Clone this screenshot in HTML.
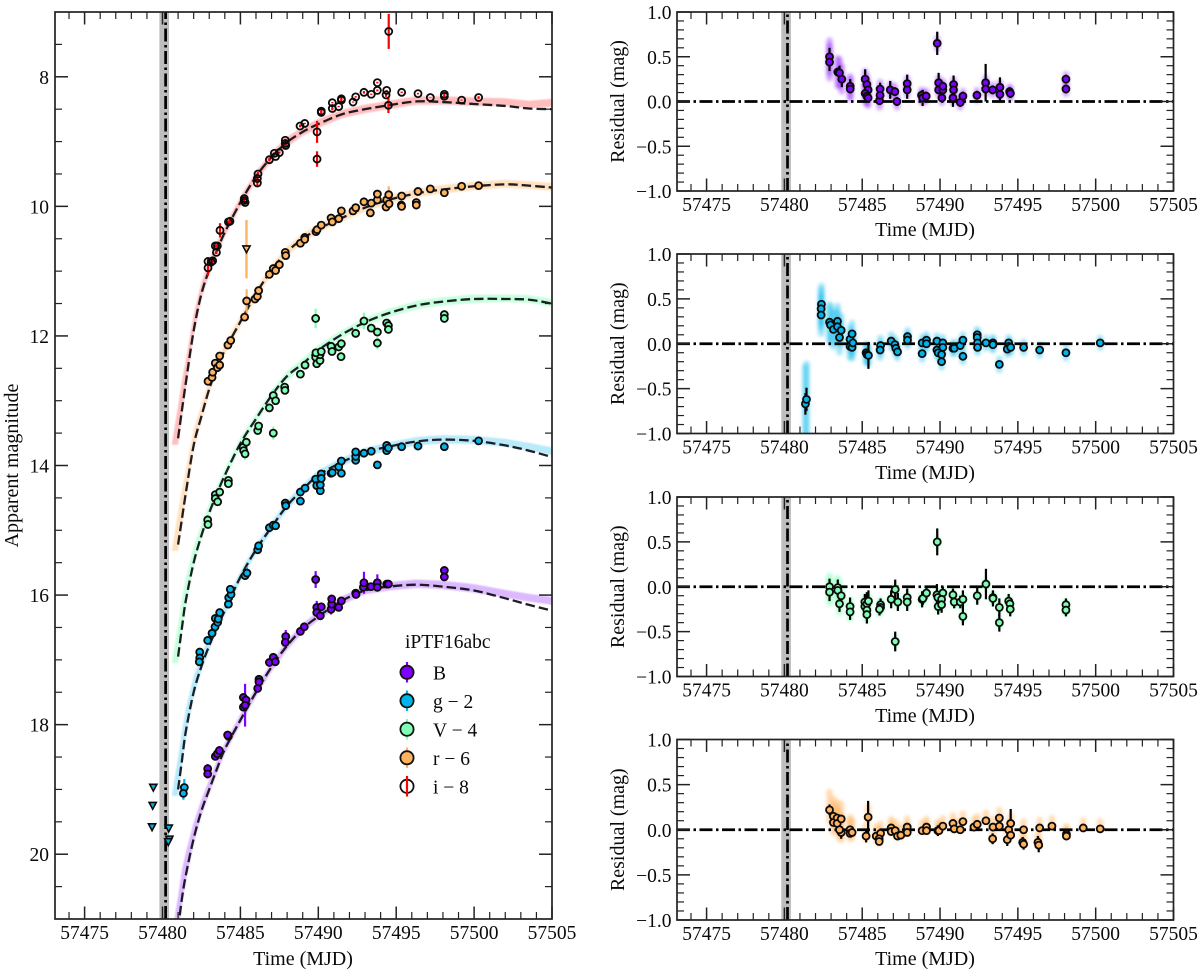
<!DOCTYPE html>
<html lang="en">
<head>
<meta charset="utf-8">
<title>iPTF16abc light curve and residuals</title>
<style>
html,body{margin:0;padding:0;background:#fff;}
svg{display:block;font-family:"Liberation Serif","DejaVu Serif",serif;}
text{fill:#0a0a0a;}
</style>
</head>
<body>
<svg id="figure" xmlns="http://www.w3.org/2000/svg" width="1200" height="975" viewBox="0 0 1200 975">
  <defs>
    <filter id="soft" x="-10%" y="-10%" width="120%" height="120%"><feGaussianBlur stdDeviation="0.9"/></filter>
    <filter id="fuzz" x="-10%" y="-20%" width="120%" height="140%"><feGaussianBlur stdDeviation="1.5"/></filter>
    <clipPath id="clip-main"><rect x="55" y="12" width="497" height="907"/></clipPath>
    <clipPath id="clip-p0"><rect x="677" y="12" width="496.5" height="179"/></clipPath>
    <clipPath id="clip-p1"><rect x="677" y="254" width="496.5" height="179.5"/></clipPath>
    <clipPath id="clip-p2"><rect x="677" y="497" width="496.5" height="179.5"/></clipPath>
    <clipPath id="clip-p3"><rect x="677" y="739.5" width="496.5" height="180.5"/></clipPath>
  </defs>

  <g id="main-panel"></g>
  <text transform="translate(18,465.5) rotate(-90)" text-anchor="middle" font-size="20">Apparent magnitude</text>
  <text x="303" y="965" text-anchor="middle" font-size="20">Time (MJD)</text>

  <g id="residual-0"></g>
  <text transform="translate(624,101.5) rotate(-90)" text-anchor="middle" font-size="20">Residual (mag)</text>
  <text x="925" y="236" text-anchor="middle" font-size="20">Time (MJD)</text>

  <g id="residual-1"></g>
  <text transform="translate(624,343.7) rotate(-90)" text-anchor="middle" font-size="20">Residual (mag)</text>
  <text x="925" y="479" text-anchor="middle" font-size="20">Time (MJD)</text>

  <g id="residual-2"></g>
  <text transform="translate(624,586.7) rotate(-90)" text-anchor="middle" font-size="20">Residual (mag)</text>
  <text x="925" y="722" text-anchor="middle" font-size="20">Time (MJD)</text>

  <g id="residual-3"></g>
  <text transform="translate(624,829.7) rotate(-90)" text-anchor="middle" font-size="20">Residual (mag)</text>
  <text x="925" y="965" text-anchor="middle" font-size="20">Time (MJD)</text>

  <g>
    <text x="405" y="648" font-size="19.5">iPTF16abc</text>
    <g>
      <line x1="407" y1="662" x2="407" y2="682.5" stroke="#8000ff" stroke-width="2.2"/>
      <circle cx="407" cy="672.3" r="6.6" fill="#8000ff" stroke="#111" stroke-width="1.8"/>
      <text x="433" y="679.5" font-size="19.5">B</text>
    </g>
    <g>
      <line x1="407" y1="690.5" x2="407" y2="711" stroke="#00b5eb" stroke-width="2.2"/>
      <circle cx="407" cy="700.8" r="6.6" fill="#00b5eb" stroke="#111" stroke-width="1.8"/>
      <text x="433" y="708" font-size="19.5">g − 2</text>
    </g>
    <g>
      <line x1="407" y1="719" x2="407" y2="739.5" stroke="#80ffb4" stroke-width="2.2"/>
      <circle cx="407" cy="729.2" r="6.6" fill="#80ffb4" stroke="#111" stroke-width="1.8"/>
      <text x="433" y="736.5" font-size="19.5">V − 4</text>
    </g>
    <g>
      <line x1="407" y1="747.5" x2="407" y2="768" stroke="#ffb360" stroke-width="2.2"/>
      <circle cx="407" cy="757.8" r="6.6" fill="#ffb360" stroke="#111" stroke-width="1.8"/>
      <text x="433" y="765" font-size="19.5">r − 6</text>
    </g>
    <g>
      <circle cx="407" cy="786.3" r="6.6" fill="none" stroke="#111" stroke-width="1.8"/>
      <line x1="407" y1="776" x2="407" y2="796.5" stroke="#ff0000" stroke-width="2.2"/>
      <text x="433" y="793.5" font-size="19.5">i − 8</text>
    </g>
  </g>
</svg>

<script>
// ---------- axis data ----------
const xTicks = [57475, 57480, 57485, 57490, 57495, 57500, 57505];
const xMinorTicks = [57474, 57476, 57477, 57478, 57479, 57481, 57482, 57483, 57484, 57486, 57487, 57488, 57489, 57491, 57492, 57493, 57494, 57496, 57497, 57498, 57499, 57501, 57502, 57503, 57504];
const magTicks = [8, 10, 12, 14, 16, 18, 20];
const magMinorTicks = [7.5, 8.5, 9, 9.5, 10.5, 11, 11.5, 12.5, 13, 13.5, 14.5, 15, 15.5, 16.5, 17, 17.5, 18.5, 19, 19.5, 20.5];
const resTicks = [1, 0.5, 0, -0.5, -1];
const resTickLabels = ['1.0', '0.5', '0.0', '\u22120.5', '\u22121.0'];
const resMinorTicks = [0.9, 0.8, 0.7, 0.6, 0.4, 0.3, 0.2, 0.1, -0.1, -0.2, -0.3, -0.4, -0.6, -0.7, -0.8, -0.9];
const explosionBand = [-0.2, 0.42];
const explosionLine = [0.2];
const epochMJD = 57480;

// ---------- light-curve points: [days since 57480, magnitude, error] ----------
const pointsB = [[2.90,18.68,.07],[2.90,18.76,.07],[3.39,18.49],[3.52,18.45],[3.65,18.40,.07],[4.23,18.18],[4.18,18.16],[5.19,17.58,.05],[5.36,17.62],[5.19,17.73],[5.30,17.70,.33],[6.11,17.44],[6.19,17.30],[6.19,17.34],[6.86,17.04],[7.11,16.96,.06],[7.24,17.03],[7.91,16.64,.1],[7.88,16.73],[8.85,16.56],[9.10,16.49],[9.83,15.76,.13],[9.90,16.19,.1],[9.90,16.27],[10.19,16.18],[10.13,16.32],[10.82,16.22,.08],[10.86,16.14,.08],[10.86,16.06,.06],[11.31,16.19],[11.48,16.09],[12.40,15.97],[12.42,15.99],[12.89,15.88],[12.93,15.81,.17],[13.38,15.87],[13.79,15.81,.13],[13.79,15.88],[14.39,15.83],[14.50,15.83],[18.09,15.62,.05],[18.09,15.72,.05]];
const pointsG = [[1.40,18.97,.13],[1.34,19.06,.1],[2.39,16.88],[2.39,16.97],[2.36,17.03],[2.90,16.70],[3.18,16.59],[3.37,16.49],[3.39,16.36],[3.54,16.42],[3.58,16.37],[3.67,16.27],[4.23,16.14],[4.25,16.04],[4.40,15.99],[4.35,15.91],[5.30,15.70],[5.42,15.66,.09],[6.11,15.30],[6.17,15.24],[6.86,14.96],[7.11,14.92],[7.26,14.93],[7.88,14.58],[7.91,14.62],[8.85,14.55],[8.85,14.41],[9.15,14.35],[9.83,14.21],[9.90,14.31],[10.13,14.39],[10.13,14.30],[10.19,14.13],[10.19,14.20],[10.82,14.12],[10.90,14.11],[11.31,14.02],[11.48,13.93],[11.48,14.12],[12.40,13.92],[12.40,13.86],[12.40,13.79],[12.93,13.81],[13.40,13.78],[13.79,13.99],[14.39,13.69],[14.39,13.77],[14.50,13.73],[15.35,13.71],[16.40,13.70],[18.09,13.71],[20.29,13.62]];
const pointsV = [[2.90,14.84],[2.92,14.91],[3.39,14.45],[3.39,14.51],[3.54,14.56],[3.67,14.41],[4.23,14.23],[4.23,14.28],[5.17,13.72],[5.21,13.77],[5.30,13.82,.09],[5.38,13.64],[6.11,13.46],[6.17,13.39],[7.11,13.50,.1],[6.86,13.11,.07],[7.11,12.92,.1],[7.26,13.00],[7.84,12.79],[7.86,12.84],[8.85,12.59],[9.15,12.45],[9.83,12.33],[9.90,12.43],[10.11,12.38],[10.11,12.29],[9.85,12.26],[10.19,12.24],[10.82,12.16],[10.88,12.24],[11.31,12.17],[11.48,12.12],[11.46,12.32,.07],[12.40,11.96,.07],[12.93,11.77,.13],[13.40,11.88],[13.79,11.94],[13.79,12.11,.09],[14.39,11.80],[14.50,11.84],[14.50,11.90],[9.83,11.73,.15],[18.09,11.67],[18.09,11.73]];
const pointsR = [[2.92,12.70],[3.18,12.64],[3.22,12.56],[3.39,12.42],[3.52,12.49],[3.67,12.45],[3.67,12.31],[4.20,12.14],[4.38,12.07],[5.27,11.71],[5.40,11.46,.18],[5.94,11.43],[6.09,11.39],[6.17,11.30],[6.86,11.05],[7.11,10.96],[7.26,10.99],[7.50,10.90],[7.88,10.71],[7.91,10.76],[8.85,10.57],[9.13,10.48],[9.13,10.51],[9.85,10.39],[9.92,10.36],[10.19,10.29],[10.82,10.18],[10.90,10.24],[11.31,10.19],[11.48,10.07],[12.23,10.07],[12.40,10.02],[12.93,9.93],[13.40,9.95],[13.34,10.10],[13.79,9.90],[13.79,9.81],[14.35,10.01],[14.39,9.90],[14.52,9.82,.13],[14.54,9.96],[15.35,9.84],[15.33,9.98],[15.35,10.00],[16.29,9.94],[16.29,9.98],[16.40,9.77],[17.19,9.73],[18.09,9.79],[19.20,9.69],[20.29,9.68]];
const pointsI = [[2.92,10.85,.04],[2.92,10.95,.12],[3.22,10.84],[3.13,10.86],[3.46,10.71],[3.52,10.61,.06],[3.39,10.61],[3.69,10.37,.11],[4.23,10.24],[4.33,10.23],[5.25,9.88],[5.25,9.91],[5.30,9.94],[6.13,9.50,.03],[6.09,9.57,.04],[6.09,9.64,.05],[6.86,9.28],[7.18,9.18,.012],[7.26,9.23,.015],[7.50,9.17,.015],[7.88,8.98],[7.88,9.03],[7.91,9.06],[8.83,8.76,.02],[9.13,8.72,.01],[9.92,8.85,.17],[9.92,9.27,.12],[10.19,8.53],[10.19,8.55],[10.90,8.40,.01],[10.90,8.49,.03],[11.31,8.46,.01],[11.48,8.34,.025],[11.48,8.36,.025],[12.23,8.39,.008],[12.40,8.31,.012],[12.93,8.24,.02],[13.40,8.27,.01],[13.79,8.09,.012],[13.79,8.21,.015],[14.39,8.21,.008],[14.35,8.28,.03],[14.50,8.44,.12],[14.52,7.30,.27],[15.35,8.24,.012],[16.40,8.26,.012],[17.19,8.32,.004],[18.09,8.27,.02],[18.09,8.30,.02],[19.20,8.36,.008],[20.29,8.32,.02]];

// ---------- upper limits ----------
const limitsG = [[-0.59,18.97],[-0.63,19.25],[-0.67,19.58],[0.40,19.60],[0.44,19.77],[0.37,19.81]];
const limitsR = [[5.39,10.66,.45]];

// ---------- model light curves on a shared time grid ----------
const modelDays = [1,1.25,1.5,2,2.5,3,3.5,4,5,6,7,8,9,10,11.5,13,14.5,16.3,18,20,22,23.5,25];
const modelB = [21.15,20.68,20.32,19.76,19.33,19.0,18.68,18.38,17.93,17.50,17.11,16.78,16.52,16.33,16.09,15.93,15.87,15.84,15.87,15.93,16.05,16.15,16.24];
const modelG = [19.00,18.55,18.10,17.50,17.10,16.78,16.50,16.24,15.72,15.30,14.95,14.62,14.37,14.15,13.95,13.80,13.71,13.63,13.60,13.62,13.69,13.77,13.87];
const modelV = [16.95,16.50,16.08,15.50,15.08,14.73,14.43,14.15,13.66,13.28,12.92,12.62,12.43,12.22,11.98,11.79,11.65,11.53,11.47,11.43,11.43,11.44,11.50];
const modelR = [15.22,14.82,14.42,13.69,13.24,12.82,12.49,12.22,11.78,11.35,10.98,10.70,10.50,10.35,10.18,10.02,9.90,9.80,9.74,9.69,9.66,9.68,9.71];
const modelI = [13.58,13.14,12.72,11.92,11.35,10.98,10.68,10.40,9.94,9.54,9.24,9.01,8.85,8.73,8.58,8.50,8.44,8.38,8.39,8.42,8.45,8.49,8.50];

// ---------- model spread around the curves (magnitudes) ----------
const ribbonBright = [.5,.45,.35,.25,.18,.15,.12,.1,.09,.08,.08,.08,.08,.08,.07,.07,.07,.07,.07,.07,.07,.07,.07];
const ribbonFaint = [.1,.1,.1,.08,.07,.07,.07,.07,.07,.07,.07,.07,.06,.06,.06,.06,.06,.06,.06,.06,.05,.05,.05];
const ribbonDriftB = [0,0,.01,.02,.03,.06,.1,.14];
const ribbonDriftG = [0,0,0,0,.01,.03,.05,.08];
const ribbonDriftV = [0,0,0,0,0,0,0,0];
const ribbonDriftR = [0,0,0,0,0,0,0,0];
const ribbonDriftI = [0,0,.01,.02,.03,.05,.05,.09];
const ribbonStartDay = [0.6];

// ---------- residual points: [days since 57480, residual, error] ----------
const residualB = [[2.90,.50,.1],[2.90,.44,.1],[3.43,.33],[3.54,.32,.08],[3.69,.25,.09],[4.23,.17,.08],[4.23,.14],[5.19,.25,.11],[5.30,.19],[5.38,.13],[5.19,.09],[5.30,.06],[5.38,.04],[6.11,.01],[6.15,.14,.07],[6.15,.07],[6.80,.13,.1],[7.10,.11],[7.23,0],[7.89,.20,.1],[7.89,.13,.1],[8.81,.07],[8.88,.04,.09],[9.11,.06],[9.82,.65,.13],[9.91,.21,.11],[9.91,.13],[10.12,.04],[10.18,.13],[10.18,.17],[10.87,.19,.1],[10.87,.13],[10.83,.04,.1],[11.30,-.01],[11.47,.06],[12.37,.07],[12.93,.21,.21],[12.93,.14],[13.38,.13],[13.85,.16,.11],[13.85,.08,.08],[14.47,.11],[14.52,.09],[18.09,.25],[18.09,.14]];
const residualG = [[1.35,-.67,.12],[1.42,-.62,.13],[2.38,.44],[2.36,.39],[2.36,.32],[2.90,.24],[2.96,.21],[3.15,.16],[3.41,.25],[3.41,.19],[3.54,.07],[3.65,.15],[4.22,.05],[4.22,-.03],[4.35,.11],[4.35,-.04],[4.40,.01],[5.25,-.10],[5.30,-.12],[5.40,-.13,.15],[6.18,-.02],[6.15,-.07],[6.86,.03],[7.10,-.01],[7.16,-.05],[7.27,-.09],[7.91,.08],[7.91,.04],[8.85,.01],[8.85,-.11],[9.13,.04],[9.13,0],[9.80,.03],[9.80,-.07],[9.88,-.10],[10.18,.01],[10.18,-.04],[10.10,-.12],[10.10,-.20],[10.83,-.05],[10.91,-.05],[11.30,-.02],[11.47,.04],[11.47,-.14],[12.39,.10],[12.39,.07],[12.41,.01],[12.41,-.04],[12.95,.01],[13.40,.01],[13.40,-.01],[13.81,-.23],[14.41,.01],[14.41,-.03],[14.32,-.06],[14.54,-.04],[15.37,-.04],[16.40,-.07],[18.09,-.10],[20.29,.01]];
const residualV = [[2.90,0,.09],[2.90,-.06,.1],[3.43,-.01,.09],[3.43,-.04],[3.65,-.10],[3.54,-.19,.09],[4.22,-.22,.1],[4.22,-.28,.09],[5.17,-.17,.09],[5.17,-.22],[5.30,-.19,.13],[5.30,-.26],[5.30,-.31,.1],[5.40,-.16,.12],[6.18,-.20],[6.18,-.23],[6.11,-.25],[6.86,-.14,.1],[7.12,-.03,.11],[7.12,-.61,.11],[7.29,-.17,.1],[7.89,-.12,.1],[7.89,-.17,.1],[8.85,-.14,.09],[8.90,-.13],[9.13,-.07],[9.82,.50,.15],[9.80,-.09,.12],[9.86,-.12],[9.88,-.22,.09],[10.18,-.07],[10.10,-.14],[10.10,-.20,.09],[10.83,-.09],[10.91,-.17],[11.30,-.17],[11.47,-.14,.1],[11.47,-.33,.1],[12.39,-.10,.1],[12.95,.03,.17],[13.40,-.12],[13.40,-.13,.09],[13.81,-.23,.1],[13.81,-.40,.1],[14.41,-.16,.08],[14.49,-.19],[14.51,-.25,.08],[18.09,-.20],[18.09,-.26]];
const residualR = [[2.90,.22,.06],[3.15,.15],[3.15,.08],[3.39,.13],[3.39,.07],[3.65,.12],[3.65,-.03,.07],[3.54,0],[4.22,0],[4.22,-.04],[4.35,-.03],[5.38,.14,.18],[5.25,-.07,.07],[5.90,-.07],[6.18,-.04],[6.09,-.10],[6.09,-.13],[6.86,.02],[6.86,-.02],[7.12,-.01],[7.27,-.07],[7.48,-.06],[7.89,.03],[7.89,-.03],[8.85,-.01],[9.13,.03],[9.13,-.01],[9.86,-.01,.06],[9.93,-.01],[10.18,.04],[10.83,.07],[10.91,.01],[11.30,0],[11.47,.09],[12.18,.03],[12.39,.06],[12.95,.10],[13.40,.03],[13.38,-.10,.06],[13.81,.13],[13.81,.04],[14.41,0],[14.32,-.11,.07],[14.54,.07,.16],[14.54,-.06],[15.37,0],[15.31,-.14,.06],[15.37,-.16,.06],[16.40,.02],[16.29,-.14,.07],[16.34,-.17,.08],[17.19,.04],[18.12,-.05],[18.12,-.07],[19.20,.02],[20.29,.01]];
const spreadDays = [1.3,2.4,3,4,5,7,10,18,21];
const spreadMag = [.42,.2,.2,.13,.1,.07,.06,.06,.05];

// ---------- axis functions ----------
const XMIN = 57473.1, XMAX = 57505;
const MAIN = {l: 55, r: 552, t: 12, b: 919};
const xMain = mjd => MAIN.l + (mjd - XMIN) * (MAIN.r - MAIN.l) / (XMAX - XMIN);
const yMain = mag => MAIN.t + (mag - 7) * (MAIN.b - MAIN.t) / 14;
const RES = {l: 677, r: 1173.5};
const xRes = mjd => RES.l + (mjd - XMIN) * (RES.r - RES.l) / (XMAX - XMIN);
const resPanels = [{t: 12, b: 191}, {t: 254, b: 433.5}, {t: 497, b: 676.5}, {t: 739.5, b: 920}];

const NS = 'http://www.w3.org/2000/svg';
function el(tag, attrs, parent) {
  const node = document.createElementNS(NS, tag);
  for (const k in attrs) node.setAttribute(k, attrs[k]);
  parent.appendChild(node);
  return node;
}
function smoothPath(pts) {
  let d = 'M' + pts[0][0].toFixed(2) + ' ' + pts[0][1].toFixed(2);
  for (let i = 0; i < pts.length - 1; i++) {
    const p0 = pts[Math.max(i - 1, 0)], p1 = pts[i], p2 = pts[i + 1], p3 = pts[Math.min(i + 2, pts.length - 1)];
    const c1x = p1[0] + (p2[0] - p0[0]) / 6, c1y = p1[1] + (p2[1] - p0[1]) / 6;
    const c2x = p2[0] - (p3[0] - p1[0]) / 6, c2y = p2[1] - (p3[1] - p1[1]) / 6;
    d += 'C' + c1x.toFixed(2) + ' ' + c1y.toFixed(2) + ' ' + c2x.toFixed(2) + ' ' + c2y.toFixed(2) + ' ' + p2[0].toFixed(2) + ' ' + p2[1].toFixed(2);
  }
  return d;
}
function interp(xs, ys, x) {
  if (x <= xs[0]) return ys[0];
  for (let i = 1; i < xs.length; i++) {
    if (x <= xs[i]) return ys[i - 1] + (ys[i] - ys[i - 1]) * (x - xs[i - 1]) / (xs[i] - xs[i - 1]);
  }
  return ys[ys.length - 1];
}

// ---------- shared axes furniture ----------
function drawBandAndLine(parent, xf, t, b, prefix) {
  const band = el('rect', {x: xf(epochMJD + explosionBand[0]), y: t, width: xf(epochMJD + explosionBand[1]) - xf(epochMJD + explosionBand[0]), height: b - t, fill: '#bdbdbd'}, parent);
  
  
  const vline = el('line', {x1: xf(epochMJD + explosionLine[0]), x2: xf(epochMJD + explosionLine[0]), y1: b, y2: t, stroke: '#000', 'stroke-width': 2.7, 'stroke-dasharray': '13 3.5 2.5 3.5'}, parent);
  
  
}
function drawFrame(parent, l, r, t, b, xf, yf, yTicks, yLabels, yMinor, labelX, prefix) {
  const g = el('g', {stroke: '#222'}, parent);
  
  
  xTicks.forEach(v => {
    const x = xf(v);
    const bottomTick = el('line', {x1: x, x2: x, y1: b, y2: b - 12.5, 'stroke-width': 1.5}, g);
    
    
    const topTick = el('line', {x1: x, x2: x, y1: t, y2: t + 12.5, 'stroke-width': 1.5}, g);
    
    
    const label = el('text', {x: x, y: b + 20, 'text-anchor': 'middle', 'font-size': 19.5, stroke: 'none'}, parent);
    
    
    label.textContent = String(v);
  });
  xMinorTicks.forEach(v => {
    const x = xf(v);
    const bottomMinor = el('line', {x1: x, x2: x, y1: b, y2: b - 7, 'stroke-width': 1.2}, g);
    
    
    const topMinor = el('line', {x1: x, x2: x, y1: t, y2: t + 7, 'stroke-width': 1.2}, g);
    
    
  });
  yTicks.forEach((v, i) => {
    const y = yf(v);
    const leftTick = el('line', {x1: l, x2: l + 13, y1: y, y2: y, 'stroke-width': 1.5}, g);
    
    
    const rightTick = el('line', {x1: r, x2: r - 13, y1: y, y2: y, 'stroke-width': 1.5}, g);
    
    
    const label = el('text', {x: labelX, y: y + 7, 'text-anchor': 'end', 'font-size': 19.5, stroke: 'none'}, parent);
    
    
    label.textContent = yLabels[i];
  });
  yMinor.forEach(v => {
    const y = yf(v);
    const leftMinor = el('line', {x1: l, x2: l + 7, y1: y, y2: y, 'stroke-width': 1.2}, g);
    
    
    const rightMinor = el('line', {x1: r, x2: r - 7, y1: y, y2: y, 'stroke-width': 1.2}, g);
    
    
  });
  const frame = el('rect', {x: l, y: t, width: r - l, height: b - t, fill: 'none', stroke: '#222', 'stroke-width': 1.7}, parent);
  
  
}

// ---------- main light-curve panel ----------
const mainBands = [
  {key: 'b', color: '#8000ff', ribbonOpacity: .28, points: pointsB, model: modelB, drift: ribbonDriftB, err: .05},
  {key: 'g', color: '#00b5eb', ribbonOpacity: .28, points: pointsG, model: modelG, drift: ribbonDriftG, err: .03},
  {key: 'v', color: '#80ffb4', ribbonOpacity: .45, points: pointsV, model: modelV, drift: ribbonDriftV, err: .05},
  {key: 'r', color: '#ffb360', ribbonOpacity: .4, points: pointsR, model: modelR, drift: ribbonDriftR, err: .03},
  {key: 'i', color: '#ff0000', ribbonOpacity: .26, points: pointsI, model: modelI, drift: ribbonDriftI, err: .025}
];
const mainRoot = document.getElementById('main-panel');
const mainClip = el('g', {'clip-path': 'url(#clip-main)'}, mainRoot);


drawBandAndLine(mainClip, xMain, MAIN.t, MAIN.b, 'main');

const ribbonLayer = el('g', {filter: 'url(#soft)'}, mainClip);


mainBands.forEach(band => {
  const n = modelDays.length;
  const driftAt = k => (k >= n - band.drift.length) ? band.drift[k - (n - band.drift.length)] : 0;
  const pts = [[xMain(epochMJD + ribbonStartDay[0]), yMain(band.model[0] + ribbonFaint[0])]];
  modelDays.forEach((d, k) => pts.push([xMain(epochMJD + d), yMain(band.model[k] - ribbonBright[k] - driftAt(k))]));
  for (let k = n - 1; k >= 0; k--) pts.push([xMain(epochMJD + modelDays[k]), yMain(band.model[k] + ribbonFaint[k] - driftAt(k))]);
  const ribbon = el('polygon', {points: pts.map(p => p[0].toFixed(1) + ',' + p[1].toFixed(1)).join(' '), fill: band.color, opacity: band.ribbonOpacity}, ribbonLayer);
  
  
});
mainBands.forEach(band => {
  const pts = modelDays.map((d, k) => [xMain(epochMJD + d), yMain(band.model[k])]);
  const curve = el('path', {d: smoothPath(pts), fill: 'none', stroke: '#0c0c14', 'stroke-width': 2.3, 'stroke-dasharray': '9.5 4', opacity: .92}, mainClip);
  
  
});
mainBands.forEach(band => {
  const g = el('g', {}, mainClip);
  
  
  band.points.forEach(p => {
    const x = xMain(epochMJD + p[0]), y = yMain(p[1]), e = p[2] === undefined ? band.err : p[2];
    const bar = el('line', {x1: x, x2: x, y1: yMain(p[1] - e), y2: yMain(p[1] + e), stroke: band.color, 'stroke-width': 2.2}, g);
    
    
  });
  band.points.forEach(p => {
    const dot = el('circle', {cx: xMain(epochMJD + p[0]), cy: yMain(p[1]), r: 3.5, fill: band.key === 'i' ? 'none' : band.color, stroke: '#0a0a0a', 'stroke-width': 1.8}, g);
    
    
  });
});
const triangle = (x, y) => (x - 3.6) + ',' + (y - 3.2) + ' ' + (x + 3.6) + ',' + (y - 3.2) + ' ' + x + ',' + (y + 3.6);
limitsG.forEach(p => {
  const tri = el('polygon', {points: triangle(xMain(epochMJD + p[0]), yMain(p[1])), fill: '#00b5eb', stroke: '#0a0a0a', 'stroke-width': 1.6}, mainClip);
  
  
});
limitsR.forEach(p => {
  const x = xMain(epochMJD + p[0]);
  const bar = el('line', {x1: x, x2: x, y1: yMain(p[1] - p[2]), y2: yMain(p[1] + p[2]), stroke: '#ffb360', 'stroke-width': 2.4}, mainClip);
  
  
  const tri = el('polygon', {points: triangle(x, yMain(p[1])), fill: 'none', stroke: '#0a0a0a', 'stroke-width': 1.6}, mainClip);
  
  
});
drawFrame(mainRoot, MAIN.l, MAIN.r, MAIN.t, MAIN.b, xMain, yMain, magTicks, magTicks.map(String), magMinorTicks, 49, 'main');

// ---------- residual panels ----------
const resBands = [
  {key: 'b', color: '#8000ff', points: residualB, err: .05, opacity: .34, spreadScale: .9, spreadShift: 0},
  {key: 'g', color: '#00b5eb', points: residualG, err: .03, opacity: .36, spreadScale: 1, spreadShift: 0},
  {key: 'v', color: '#80ffb4', points: residualV, err: .07, opacity: .55, spreadScale: .6, spreadShift: 0},
  {key: 'r', color: '#ffb360', points: residualR, err: .03, opacity: .45, spreadScale: .8, spreadShift: .04}
];
resBands.forEach((band, idx) => {
  const box = resPanels[idx];
  const prefix = 'residual-' + band.key;
  const yRes = v => box.t + (1 - v) * (box.b - box.t) / 2;
  const root = document.getElementById('residual-' + idx);
  const clip = el('g', {'clip-path': 'url(#clip-p' + idx + ')'}, root);
  
  
  drawBandAndLine(clip, xRes, box.t, box.b, prefix);
  const fuzz = el('g', {filter: 'url(#fuzz)'}, clip);
  
  
  band.points.forEach(p => {
    const x = xRes(epochMJD + p[0]), s = interp(spreadDays, spreadMag, p[0]) * band.spreadScale, c = p[1] + band.spreadShift;
    const smear = el('line', {x1: x, x2: x, y1: yRes(c + s), y2: yRes(c - s), stroke: band.color, 'stroke-width': 6.5, 'stroke-linecap': 'round', opacity: band.opacity}, fuzz);
    
    
  });
  const zero = el('line', {x1: RES.l, x2: RES.r, y1: yRes(0), y2: yRes(0), stroke: '#000', 'stroke-width': 2.7, 'stroke-dasharray': '13 3.5 2.5 3.5'}, clip);
  
  
  band.points.forEach(p => {
    const x = xRes(epochMJD + p[0]), e = p[2] === undefined ? band.err : p[2];
    const bar = el('line', {x1: x, x2: x, y1: yRes(p[1] + e), y2: yRes(p[1] - e), stroke: '#000', 'stroke-width': 2.2}, clip);
    
    
  });
  band.points.forEach(p => {
    const dot = el('circle', {cx: xRes(epochMJD + p[0]), cy: yRes(p[1]), r: 3.5, fill: band.color, stroke: '#0a0a0a', 'stroke-width': 1.8}, clip);
    
    
  });
  drawFrame(root, RES.l, RES.r, box.t, box.b, xRes, yRes, resTicks, resTickLabels, resMinorTicks, 671.5, prefix);
});
</script>
</body>
</html>
